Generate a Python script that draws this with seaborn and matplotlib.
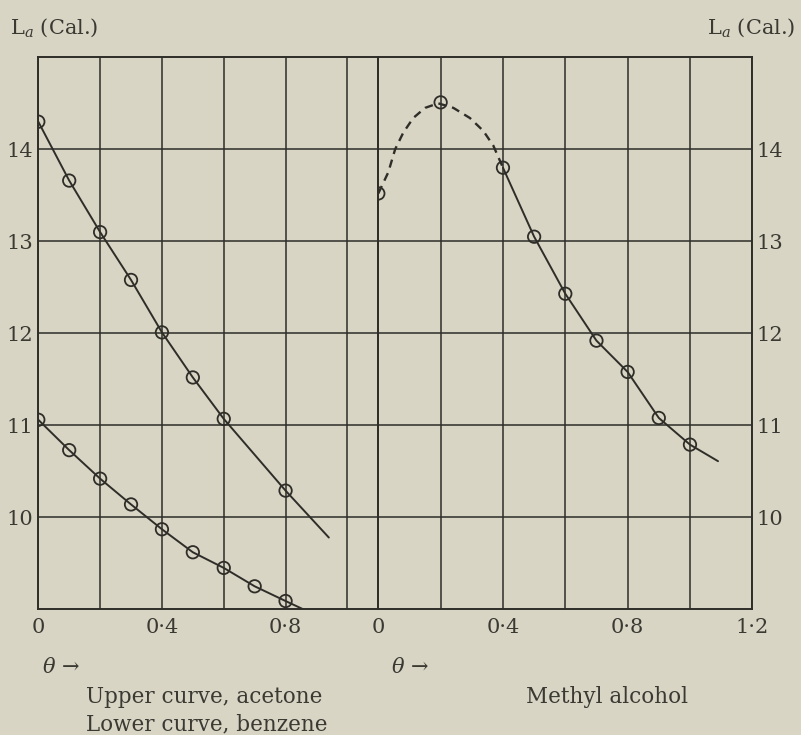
import matplotlib
matplotlib.use('Agg')
import matplotlib.pyplot as plt
from matplotlib.ticker import FixedLocator
import numpy as np
import seaborn as sns

# acetone (upper curve, left panel)
acetone_theta = [0.0, 0.1, 0.2, 0.3, 0.4, 0.5, 0.6, 0.8]
acetone_L = [14.30, 13.66, 13.10, 12.58, 12.01, 11.52, 11.07, 10.29]
acetone_end = (0.94, 9.78)

# benzene (lower curve, left panel)
benzene_theta = [0.0, 0.1, 0.2, 0.3, 0.4, 0.5, 0.6, 0.7, 0.8]
benzene_L = [11.06, 10.73, 10.42, 10.14, 9.87, 9.62, 9.45, 9.25, 9.09]
benzene_end = (0.87, 8.98)

# methyl alcohol (right panel)
methyl_theta = [0.0, 0.2, 0.4, 0.5, 0.6, 0.7, 0.8, 0.9, 1.0]
methyl_L = [13.52, 14.51, 13.80, 13.05, 12.43, 11.92, 11.58, 11.08, 10.79]
methyl_end = (1.09, 10.61)
# dashed part
dash_theta = [0.0, 0.032, 0.054, 0.080, 0.112, 0.150, 0.192, 0.241, 0.294, 0.337, 0.369, 0.40]
dash_L = [13.52, 13.75, 14.00, 14.18, 14.34, 14.45, 14.50, 14.45, 14.34, 14.20, 14.04, 13.80]

y_ticks = [10, 11, 12, 13, 14]
x_major_left = [0, 0.4, 0.8]
x_labels_left = ['0', '0·4', '0·8']
x_major_right = [0, 0.4, 0.8, 1.2]
x_labels_right = ['0', '0·4', '0·8', '1·2']

W, H = 801, 735
paper = '#d8d5c5'
ink = '#2e2d28'

sns.set_theme(style='white')
plt.rcParams['font.family'] = ['DejaVu Serif']
plt.rcParams['mathtext.fontset'] = 'dejavuserif'

fig = plt.figure(figsize=(W / 100, H / 100), dpi=100)
fig.patch.set_facecolor(paper)


def px(x0, y0, w, h):
    return [x0 / W, 1 - (y0 + h) / H, w / W, h / H]


axL = fig.add_axes(px(38.3, 57.3, 340, 552))
axR = fig.add_axes(px(378.3, 57.3, 374, 552))


def style(ax, xmax, major, labels, minor, side):
    ax.set_facecolor(paper)
    ax.set_xlim(0, xmax)
    ax.set_ylim(9, 15)
    ax.xaxis.set_major_locator(FixedLocator(major))
    ax.xaxis.set_minor_locator(FixedLocator(minor))
    ax.set_xticklabels(labels)
    ax.set_yticks(y_ticks)
    ax.set_yticklabels([str(v) for v in y_ticks])
    ax.grid(True, which='both', color=ink, linewidth=1.1)
    ax.tick_params(axis='both', which='both', length=0, labelsize=15,
                   labelcolor='#3a3932', pad=6)
    if side == 'right':
        ax.yaxis.tick_right()
        ax.tick_params(axis='y', pad=3)
    else:
        ax.tick_params(axis='y', pad=4)
    for sp in ax.spines.values():
        sp.set_color(ink)
        sp.set_linewidth(1.4)
    ax.set_xlabel('')
    ax.set_ylabel('')


def curve(ax, xs, ys, dashed=False):
    sns.lineplot(x=xs, y=ys, ax=ax, color=ink, linewidth=1.7 if dashed else 1.4,
                 sort=False, estimator=None, linestyle='--' if dashed else '-')
    if dashed:
        ax.lines[-1].set_dashes((3.5, 2.5))


def marks(ax, xs, ys):
    sns.scatterplot(x=xs, y=ys, ax=ax, s=80, marker='o', facecolor='none',
                    edgecolor=ink, linewidth=1.3, zorder=5)


curve(axL, acetone_theta + [acetone_end[0]], acetone_L + [acetone_end[1]])
marks(axL, acetone_theta, acetone_L)
curve(axL, benzene_theta + [benzene_end[0]], benzene_L + [benzene_end[1]])
marks(axL, benzene_theta, benzene_L)
style(axL, 1.1, x_major_left, x_labels_left, [0.2, 0.6, 1.0], 'left')

curve(axR, dash_theta, dash_L, dashed=True)
curve(axR, methyl_theta[2:] + [methyl_end[0]], methyl_L[2:] + [methyl_end[1]])
marks(axR, methyl_theta, methyl_L)
style(axR, 1.2, x_major_right, x_labels_right, [0.2, 0.6, 1.0], 'right')

tc = '#3a3932'
fig.text(10 / W, 1 - 28 / H, r'L$_a$ (Cal.)', fontsize=15, color=tc, va='center', ha='left')
fig.text(795 / W, 1 - 28 / H, r'L$_a$ (Cal.)', fontsize=15, color=tc, va='center', ha='right')
fig.text(42 / W, 1 - 667 / H, r'$\theta$ →', fontsize=15, color=tc, va='center', ha='left')
fig.text(391 / W, 1 - 667 / H, r'$\theta$ →', fontsize=15, color=tc, va='center', ha='left')
fig.text(86 / W, 1 - 697 / H, 'Upper curve, acetone', fontsize=15.5, color=tc, va='center', ha='left')
fig.text(86 / W, 1 - 724 / H, 'Lower curve, benzene', fontsize=15.5, color=tc, va='center', ha='left')
fig.text(607 / W, 1 - 697 / H, 'Methyl alcohol', fontsize=15.5, color=tc, va='center', ha='center')

fig.savefig('out.png', dpi=100, facecolor=paper)
